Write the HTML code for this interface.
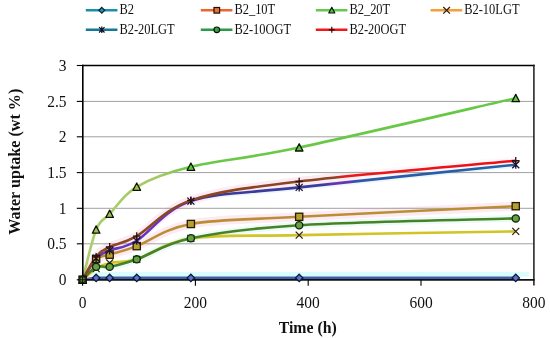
<!DOCTYPE html>
<html><head><meta charset="utf-8"><style>
html,body{margin:0;padding:0;background:#fff;}
body{width:550px;height:338px;overflow:hidden;}
svg{display:block;will-change:transform;}
.tl{font-family:"Liberation Serif",serif;font-size:15.5px;fill:#111;}
.at{font-family:"Liberation Serif",serif;font-size:15.8px;font-weight:bold;fill:#111;}
.lg{font-family:"Liberation Serif",serif;font-size:12.45px;fill:#111;}
</style></head><body>
<svg width="550" height="338" viewBox="0 0 550 338">
<rect width="550" height="338" fill="#fff"/>
<defs>
<linearGradient id="g20t" gradientUnits="userSpaceOnUse" x1="82" y1="0" x2="534" y2="0">
<stop offset="0" stop-color="#acce6c"/><stop offset="0.17" stop-color="#a4ca62"/><stop offset="0.24" stop-color="#6cc848"/><stop offset="1" stop-color="#66c844"/></linearGradient>
<linearGradient id="g20o" gradientUnits="userSpaceOnUse" x1="82" y1="0" x2="534" y2="0">
<stop offset="0" stop-color="#8a4a24"/><stop offset="0.56" stop-color="#8a4420"/><stop offset="0.585" stop-color="#ec1818"/><stop offset="1" stop-color="#f00c14"/></linearGradient>
<linearGradient id="g20l" gradientUnits="userSpaceOnUse" x1="82" y1="0" x2="534" y2="0">
<stop offset="0" stop-color="#6a34c8"/><stop offset="0.22" stop-color="#6434c0"/><stop offset="0.27" stop-color="#3a3a98"/><stop offset="0.53" stop-color="#3a3c9c"/><stop offset="0.56" stop-color="#6038b0"/><stop offset="0.59" stop-color="#6038b0"/><stop offset="0.61" stop-color="#2c58a8"/><stop offset="1" stop-color="#1e66a6"/></linearGradient>
<linearGradient id="gb2" gradientUnits="userSpaceOnUse" x1="82" y1="0" x2="534" y2="0">
<stop offset="0" stop-color="#7a5cc8"/><stop offset="0.022" stop-color="#7a5cc8"/><stop offset="0.03" stop-color="#3c5ea8"/><stop offset="1" stop-color="#3c62aa"/></linearGradient>
<linearGradient id="hpink" gradientUnits="userSpaceOnUse" x1="82" y1="0" x2="534" y2="0">
<stop offset="0" stop-color="#fcebf5"/><stop offset="0.58" stop-color="#fcebf5"/><stop offset="0.64" stop-color="#fdf6fa"/><stop offset="1" stop-color="#fefafc"/></linearGradient>
</defs>
<rect x="84" y="271.8" width="445" height="4.8" fill="#dafcfc"/>
<path d="M82.60,279.70 C84.86,277.56 91.62,268.98 96.14,266.84 C100.65,264.70 102.90,268.09 109.67,266.84 C116.44,265.59 123.21,264.10 136.74,259.34 C150.28,254.57 163.82,243.94 190.89,238.26 C217.96,232.58 245.03,228.57 299.18,225.26 C353.32,221.94 479.66,219.54 515.75,218.40" fill="none" stroke="#ebfbf6" stroke-width="7" stroke-linejoin="round" stroke-linecap="butt"/>
<path d="M82.60,279.70 C84.86,276.13 91.62,263.15 96.14,258.26 C100.65,253.38 102.90,253.32 109.67,250.41 C116.44,247.49 123.21,248.98 136.74,240.76 C150.28,232.54 163.82,210.00 190.89,201.10 C217.96,192.21 245.03,193.46 299.18,187.39 C353.32,181.31 479.66,168.45 515.75,164.67" fill="none" stroke="#eef6fc" stroke-width="6" stroke-linejoin="round" stroke-linecap="butt"/>
<path d="M82.60,279.70 C84.86,276.25 91.62,263.15 96.14,258.98 C100.65,254.81 102.90,256.84 109.67,254.69 C116.44,252.55 123.21,251.24 136.74,246.12 C150.28,241.00 163.82,228.85 190.89,223.97 C217.96,219.09 245.03,219.79 299.18,216.82 C353.32,213.86 479.66,207.95 515.75,206.18" fill="none" stroke="#fcebf5" stroke-width="9" stroke-linejoin="round" stroke-linecap="butt"/>
<path d="M82.60,279.70 C84.86,275.89 91.62,262.31 96.14,256.84 C100.65,251.36 102.90,250.29 109.67,246.83 C116.44,243.38 123.21,243.86 136.74,236.12 C150.28,228.38 163.82,209.50 190.89,200.39 C217.96,191.28 245.03,188.07 299.18,181.46 C353.32,174.85 479.66,164.19 515.75,160.74" fill="none" stroke="url(#hpink)" stroke-width="9" stroke-linejoin="round" stroke-linecap="butt"/>
<line x1="83" x2="534" y1="101.4" y2="101.4" stroke="#a0a0a0" stroke-width="1"/>
<line x1="83" x2="534" y1="136.8" y2="136.8" stroke="#a0a0a0" stroke-width="1"/>
<line x1="83" x2="534" y1="172.6" y2="172.6" stroke="#a0a0a0" stroke-width="1"/>
<line x1="83" x2="534" y1="208.3" y2="208.3" stroke="#a0a0a0" stroke-width="1"/>
<line x1="83" x2="534" y1="243.8" y2="243.8" stroke="#a0a0a0" stroke-width="1"/>
<path d="M82.60,279.70 C84.86,279.40 91.62,278.21 96.14,277.91 C100.65,277.62 102.90,277.91 109.67,277.91 C116.44,277.91 123.21,277.91 136.74,277.91 C150.28,277.91 163.82,277.91 190.89,277.91 C217.96,277.91 245.03,277.91 299.18,277.91 C353.32,277.91 479.66,277.91 515.75,277.91" fill="none" stroke="url(#gb2)" stroke-width="2.6" stroke-linejoin="round"/>
<path d="M82.60,279.70 C84.86,276.25 91.62,263.15 96.14,258.98 C100.65,254.81 102.90,256.84 109.67,254.69 C116.44,252.55 123.21,251.24 136.74,246.12 C150.28,241.00 163.82,228.85 190.89,223.97 C217.96,219.09 245.03,219.79 299.18,216.82 C353.32,213.86 479.66,207.95 515.75,206.18" fill="none" stroke="#bc8e32" stroke-width="2.6" stroke-linejoin="round"/>
<path d="M82.60,279.70 C84.86,271.36 91.62,240.64 96.14,229.69 C100.65,218.73 102.90,221.11 109.67,213.97 C116.44,206.82 123.21,194.67 136.74,186.81 C150.28,178.96 163.82,173.36 190.89,166.81 C217.96,160.26 245.03,158.95 299.18,147.52 C353.32,136.09 479.66,106.43 515.75,98.22" fill="none" stroke="url(#g20t)" stroke-width="2.6" stroke-linejoin="round"/>
<path d="M82.60,279.70 C84.86,277.85 91.62,271.42 96.14,268.63 C100.65,265.83 102.90,264.46 109.67,262.91 C116.44,261.36 123.21,263.42 136.74,259.34 C150.28,255.25 163.82,242.44 190.89,238.40 C217.96,234.36 245.03,236.28 299.18,235.12 C353.32,233.95 479.66,232.02 515.75,231.40" fill="none" stroke="#d0c426" stroke-width="2.6" stroke-linejoin="round"/>
<path d="M82.60,279.70 C84.86,276.13 91.62,263.15 96.14,258.26 C100.65,253.38 102.90,253.32 109.67,250.41 C116.44,247.49 123.21,248.98 136.74,240.76 C150.28,232.54 163.82,210.00 190.89,201.10 C217.96,192.21 245.03,193.46 299.18,187.39 C353.32,181.31 479.66,168.45 515.75,164.67" fill="none" stroke="url(#g20l)" stroke-width="2.6" stroke-linejoin="round"/>
<path d="M82.60,279.70 C84.86,277.56 91.62,268.98 96.14,266.84 C100.65,264.70 102.90,268.09 109.67,266.84 C116.44,265.59 123.21,264.10 136.74,259.34 C150.28,254.57 163.82,243.94 190.89,238.26 C217.96,232.58 245.03,228.57 299.18,225.26 C353.32,221.94 479.66,219.54 515.75,218.40" fill="none" stroke="#488228" stroke-width="2.6" stroke-linejoin="round"/>
<path d="M82.60,279.70 C84.86,275.89 91.62,262.31 96.14,256.84 C100.65,251.36 102.90,250.29 109.67,246.83 C116.44,243.38 123.21,243.86 136.74,236.12 C150.28,228.38 163.82,209.50 190.89,200.39 C217.96,191.28 245.03,188.07 299.18,181.46 C353.32,174.85 479.66,164.19 515.75,160.74" fill="none" stroke="url(#g20o)" stroke-width="2.6" stroke-linejoin="round"/>
<line x1="82.8" x2="82.8" y1="64.7" y2="280.6" stroke="#000" stroke-width="1.6"/>
<line x1="82" x2="534.7" y1="65.5" y2="65.5" stroke="#000" stroke-width="1.7"/>
<line x1="533.9" x2="533.9" y1="64.7" y2="285.5" stroke="#1a1a1a" stroke-width="1.5"/>
<line x1="82" x2="534.6" y1="279.9" y2="279.9" stroke="#101010" stroke-width="1.6"/>
<line x1="76.8" x2="83" y1="65.5" y2="65.5" stroke="#000" stroke-width="1.1"/>
<line x1="76.8" x2="83" y1="101.4" y2="101.4" stroke="#000" stroke-width="1.1"/>
<line x1="76.8" x2="83" y1="136.8" y2="136.8" stroke="#000" stroke-width="1.1"/>
<line x1="76.8" x2="83" y1="172.6" y2="172.6" stroke="#000" stroke-width="1.1"/>
<line x1="76.8" x2="83" y1="208.3" y2="208.3" stroke="#000" stroke-width="1.1"/>
<line x1="76.8" x2="83" y1="243.8" y2="243.8" stroke="#000" stroke-width="1.1"/>
<line x1="76.8" x2="83" y1="279.8" y2="279.8" stroke="#000" stroke-width="1.1"/>
<line x1="82.60" x2="82.60" y1="279.6" y2="285.8" stroke="#000" stroke-width="1.1"/>
<line x1="195.40" x2="195.40" y1="279.6" y2="285.8" stroke="#000" stroke-width="1.1"/>
<line x1="308.20" x2="308.20" y1="279.6" y2="285.8" stroke="#000" stroke-width="1.1"/>
<line x1="421.00" x2="421.00" y1="279.6" y2="285.8" stroke="#000" stroke-width="1.1"/>
<path d="M82.60,276.00 L86.30,279.70 L82.60,283.40 L78.90,279.70Z" fill="#5c72cc" stroke="#0c1838" stroke-width="1.3"/>
<path d="M96.14,274.21 L99.84,277.91 L96.14,281.61 L92.44,277.91Z" fill="#5c72cc" stroke="#0c1838" stroke-width="1.3"/>
<path d="M109.67,274.21 L113.37,277.91 L109.67,281.61 L105.97,277.91Z" fill="#5c72cc" stroke="#0c1838" stroke-width="1.3"/>
<path d="M136.74,274.21 L140.44,277.91 L136.74,281.61 L133.04,277.91Z" fill="#5c72cc" stroke="#0c1838" stroke-width="1.3"/>
<path d="M190.89,274.21 L194.59,277.91 L190.89,281.61 L187.19,277.91Z" fill="#5c72cc" stroke="#0c1838" stroke-width="1.3"/>
<path d="M299.18,274.21 L302.88,277.91 L299.18,281.61 L295.48,277.91Z" fill="#5c72cc" stroke="#0c1838" stroke-width="1.3"/>
<path d="M515.75,274.21 L519.45,277.91 L515.75,281.61 L512.05,277.91Z" fill="#5c72cc" stroke="#0c1838" stroke-width="1.3"/>
<rect x="92.54" y="255.38" width="7.20" height="7.20" fill="#b4a030" stroke="#281800" stroke-width="1.3"/>
<rect x="106.07" y="251.09" width="7.20" height="7.20" fill="#b4a030" stroke="#281800" stroke-width="1.3"/>
<rect x="133.14" y="242.52" width="7.20" height="7.20" fill="#b4a030" stroke="#281800" stroke-width="1.3"/>
<rect x="187.29" y="220.37" width="7.20" height="7.20" fill="#b4a030" stroke="#281800" stroke-width="1.3"/>
<rect x="295.58" y="213.22" width="7.20" height="7.20" fill="#b4a030" stroke="#281800" stroke-width="1.3"/>
<rect x="512.15" y="202.58" width="7.20" height="7.20" fill="#b4a030" stroke="#281800" stroke-width="1.3"/>
<path d="M82.60,275.90 L86.40,283.20 L78.80,283.20Z" fill="#a2c050" stroke="#0c1400" stroke-width="1.3" stroke-linejoin="round"/>
<path d="M96.14,225.89 L99.94,233.19 L92.34,233.19Z" fill="#a2c050" stroke="#0c1400" stroke-width="1.3" stroke-linejoin="round"/>
<path d="M109.67,210.17 L113.47,217.47 L105.87,217.47Z" fill="#a2c050" stroke="#0c1400" stroke-width="1.3" stroke-linejoin="round"/>
<path d="M136.74,183.02 L140.54,190.31 L132.94,190.31Z" fill="#a2c050" stroke="#0c1400" stroke-width="1.3" stroke-linejoin="round"/>
<path d="M190.89,163.01 L194.69,170.31 L187.09,170.31Z" fill="#5cc440" stroke="#0c1400" stroke-width="1.3" stroke-linejoin="round"/>
<path d="M299.18,143.72 L302.98,151.02 L295.38,151.02Z" fill="#5cc440" stroke="#0c1400" stroke-width="1.3" stroke-linejoin="round"/>
<path d="M515.75,94.42 L519.55,101.72 L511.95,101.72Z" fill="#5cc440" stroke="#0c1400" stroke-width="1.3" stroke-linejoin="round"/>
<path d="M92.64,265.13 L99.64,272.13 M99.64,265.13 L92.64,272.13" stroke="#302010" stroke-width="1.3" fill="none"/>
<path d="M106.17,259.41 L113.17,266.41 M113.17,259.41 L106.17,266.41" stroke="#302010" stroke-width="1.3" fill="none"/>
<path d="M133.24,255.84 L140.24,262.84 M140.24,255.84 L133.24,262.84" stroke="#302010" stroke-width="1.3" fill="none"/>
<path d="M187.39,234.90 L194.39,241.90 M194.39,234.90 L187.39,241.90" stroke="#302010" stroke-width="1.3" fill="none"/>
<path d="M295.68,231.62 L302.68,238.62 M302.68,231.62 L295.68,238.62" stroke="#302010" stroke-width="1.3" fill="none"/>
<path d="M512.25,227.90 L519.25,234.90 M519.25,227.90 L512.25,234.90" stroke="#302010" stroke-width="1.3" fill="none"/>
<path d="M92.64,254.76 L99.64,261.76 M99.64,254.76 L92.64,261.76 M96.14,254.26 L96.14,262.26" stroke="#181030" stroke-width="1.3" fill="none"/>
<path d="M106.17,246.91 L113.17,253.91 M113.17,246.91 L106.17,253.91 M109.67,246.41 L109.67,254.41" stroke="#181030" stroke-width="1.3" fill="none"/>
<path d="M133.24,237.26 L140.24,244.26 M140.24,237.26 L133.24,244.26 M136.74,236.76 L136.74,244.76" stroke="#181030" stroke-width="1.3" fill="none"/>
<path d="M187.39,197.60 L194.39,204.60 M194.39,197.60 L187.39,204.60 M190.89,197.10 L190.89,205.10" stroke="#181030" stroke-width="1.3" fill="none"/>
<path d="M295.68,183.89 L302.68,190.89 M302.68,183.89 L295.68,190.89 M299.18,183.39 L299.18,191.39" stroke="#181030" stroke-width="1.3" fill="none"/>
<path d="M512.25,161.17 L519.25,168.17 M519.25,161.17 L512.25,168.17 M515.75,160.67 L515.75,168.67" stroke="#181030" stroke-width="1.3" fill="none"/>
<circle cx="96.14" cy="266.84" r="3.60" fill="#66a040" stroke="#0c280c" stroke-width="1.3"/>
<circle cx="109.67" cy="266.84" r="3.60" fill="#66a040" stroke="#0c280c" stroke-width="1.3"/>
<circle cx="136.74" cy="259.34" r="3.60" fill="#66a040" stroke="#0c280c" stroke-width="1.3"/>
<circle cx="190.89" cy="238.26" r="3.60" fill="#66a040" stroke="#0c280c" stroke-width="1.3"/>
<circle cx="299.18" cy="225.26" r="3.60" fill="#66a040" stroke="#0c280c" stroke-width="1.3"/>
<circle cx="515.75" cy="218.40" r="3.60" fill="#66a040" stroke="#0c280c" stroke-width="1.3"/>
<path d="M92.34,256.84 L99.94,256.84 M96.14,253.04 L96.14,260.64" stroke="#301010" stroke-width="1.3" fill="none"/>
<path d="M105.87,246.83 L113.47,246.83 M109.67,243.03 L109.67,250.63" stroke="#301010" stroke-width="1.3" fill="none"/>
<path d="M132.94,236.12 L140.54,236.12 M136.74,232.32 L136.74,239.92" stroke="#301010" stroke-width="1.3" fill="none"/>
<path d="M187.09,200.39 L194.69,200.39 M190.89,196.59 L190.89,204.19" stroke="#301010" stroke-width="1.3" fill="none"/>
<path d="M295.38,181.46 L302.98,181.46 M299.18,177.66 L299.18,185.26" stroke="#301010" stroke-width="1.3" fill="none"/>
<path d="M511.95,160.74 L519.55,160.74 M515.75,156.94 L515.75,164.54" stroke="#301010" stroke-width="1.3" fill="none"/>
<rect x="79.00" y="276.10" width="7.20" height="7.20" fill="#58702c" stroke="#080800" stroke-width="1.3"/>
<circle cx="82.60" cy="279.70" r="2.88" fill="#6a9a40" stroke="#102810" stroke-width="1.1"/>
<path d="M79.37,279.70 L85.83,279.70 M82.60,276.47 L82.60,282.93" stroke="#181008" stroke-width="1.1" fill="none"/>
<text transform="translate(66.6,285.00) scale(1,1.1)" text-anchor="end" class="tl">0</text>
<text transform="translate(66.6,249.00) scale(1,1.1)" text-anchor="end" class="tl">0.5</text>
<text transform="translate(66.6,213.50) scale(1,1.1)" text-anchor="end" class="tl">1</text>
<text transform="translate(66.6,177.80) scale(1,1.1)" text-anchor="end" class="tl">1.5</text>
<text transform="translate(66.6,142.00) scale(1,1.1)" text-anchor="end" class="tl">2</text>
<text transform="translate(66.6,106.60) scale(1,1.1)" text-anchor="end" class="tl">2.5</text>
<text transform="translate(66.6,70.70) scale(1,1.1)" text-anchor="end" class="tl">3</text>
<text transform="translate(82.60,307.8) scale(1,1.1)" text-anchor="middle" class="tl">0</text>
<text transform="translate(195.40,307.8) scale(1,1.1)" text-anchor="middle" class="tl">200</text>
<text transform="translate(308.20,307.8) scale(1,1.1)" text-anchor="middle" class="tl">400</text>
<text transform="translate(421.00,307.8) scale(1,1.1)" text-anchor="middle" class="tl">600</text>
<text transform="translate(533.80,307.8) scale(1,1.1)" text-anchor="middle" class="tl">800</text>
<text x="307.7" y="332.7" text-anchor="middle" class="at">Time (h)</text>
<text transform="translate(19.8,161.7) rotate(-90)" text-anchor="middle" class="at" style="font-size:16.1px">Water uptake (wt %)</text>
<line x1="85.80" x2="117.40" y1="10.3" y2="10.3" stroke="#1a8fa8" stroke-width="2.5"/>
<path d="M101.80,7.41 L104.69,10.30 L101.80,13.19 L98.91,10.30Z" fill="#2a90b0" stroke="#08202c" stroke-width="1.2"/>
<text transform="translate(119.40,14.25) scale(1,1.1)" class="lg">B2</text>
<line x1="200.80" x2="232.40" y1="10.3" y2="10.3" stroke="#f06430" stroke-width="2.5"/>
<rect x="213.99" y="7.49" width="5.62" height="5.62" fill="#e87030" stroke="#201000" stroke-width="1.2"/>
<text transform="translate(234.40,14.25) scale(1,1.1)" class="lg">B2_10T</text>
<line x1="315.80" x2="347.40" y1="10.3" y2="10.3" stroke="#66c850" stroke-width="2.5"/>
<path d="M331.80,7.29 L334.81,13.01 L328.79,13.01Z" fill="#58c040" stroke="#001800" stroke-width="1.2" stroke-linejoin="round"/>
<text transform="translate(349.40,14.25) scale(1,1.1)" class="lg">B2_20T</text>
<line x1="430.60" x2="462.20" y1="10.3" y2="10.3" stroke="#f4a034" stroke-width="2.5"/>
<path d="M443.28,6.98 L449.93,13.62 M449.93,6.98 L443.28,13.62" stroke="#302010" stroke-width="1.3" fill="none"/>
<text transform="translate(464.20,14.25) scale(1,1.1)" class="lg">B2-10LGT</text>
<line x1="85.80" x2="117.40" y1="29.8" y2="29.8" stroke="#167898" stroke-width="2.5"/>
<path d="M99.07,27.07 L104.53,32.53 M104.53,27.07 L99.07,32.53 M101.80,26.57 L101.80,33.03" stroke="#100818" stroke-width="1.2" fill="none"/>
<text transform="translate(119.40,33.75) scale(1,1.1)" class="lg">B2-20LGT</text>
<line x1="200.80" x2="232.40" y1="29.8" y2="29.8" stroke="#2a9a44" stroke-width="2.5"/>
<circle cx="216.80" cy="29.80" r="2.81" fill="#3aa048" stroke="#001800" stroke-width="1.2"/>
<text transform="translate(234.40,33.75) scale(1,1.1)" class="lg">B2-10OGT</text>
<line x1="315.80" x2="347.40" y1="29.8" y2="29.8" stroke="#f01818" stroke-width="2.5"/>
<path d="M328.84,29.80 L334.76,29.80 M331.80,26.84 L331.80,32.76" stroke="#300808" stroke-width="1.2" fill="none"/>
<text transform="translate(349.40,33.75) scale(1,1.1)" class="lg">B2-20OGT</text>
</svg>
</body></html>
